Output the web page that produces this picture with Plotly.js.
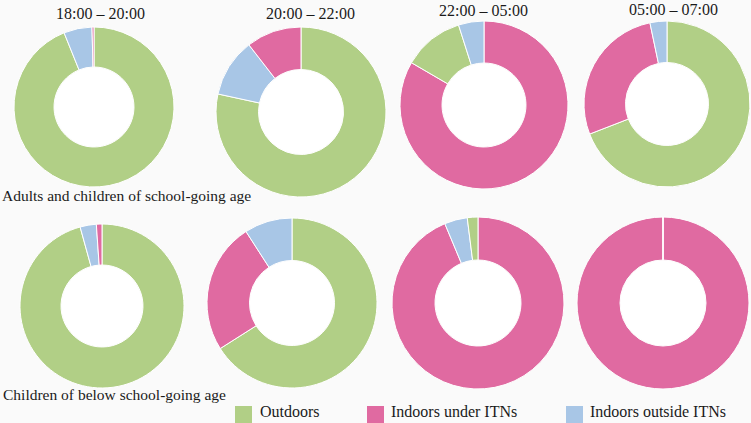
<!DOCTYPE html>
<html>
<head>
<meta charset="utf-8">
<script src="https://cdn.plot.ly/plotly-3.0.1.min.js"></script>
<style>html,body{margin:0;padding:0;background:#fafafa;}#chart{width:751px;height:423px;}</style>
</head>
<body>
<div id="chart"></div>
<script>
// ---- data ----
const labels = ['Outdoors', 'Indoors under ITNs', 'Indoors outside ITNs'];
const periods = ['18:00 \u2013 20:00', '20:00 \u2013 22:00', '22:00 \u2013 05:00', '05:00 \u2013 07:00'];
const groups = ['Adults and children of school-going age', 'Children of below school-going age'];

const adultsOutdoors = [93.9, 78.4, 11.7, 69.1];
const adultsUnderITN = [0.4, 10.5, 83.4, 27.6];
const adultsOutsideITN = [5.7, 11.1, 4.9, 3.3];

const childOutdoors = [95.7, 66.0, 2.0, 0];
const childUnderITN = [1.1, 24.9, 93.7, 100];
const childOutsideITN = [3.2, 9.1, 4.3, 0];

// ---- styles / layout ----
const colors = ['#b1cf86', '#e06aa1', '#a8c6e6'];
const W = 751, H = 423;
const FONT = '"Liberation Serif", "DejaVu Serif", serif';
// pie centres and radii in px, [row][col]
const geom = [
  [[94, 107, 80], [301, 112, 85], [484, 105, 84], [667, 104, 83]],
  [[102, 306, 82], [292, 303, 85], [478, 303, 86], [663, 303, 86]]
];
const HOLE = 0.5;

const rows = [
  [adultsOutdoors, adultsUnderITN, adultsOutsideITN],
  [childOutdoors, childUnderITN, childOutsideITN]
];

const traces = [];
const shapes = [];
rows.forEach((series, r) => {
  periods.forEach((p, c) => {
    const [cx, cy, rad] = geom[r][c];
    traces.push({
      type: 'pie',
      labels: labels,
      values: series.map(s => s[c]),
      hole: HOLE,
      sort: true,
      direction: 'clockwise',
      rotation: 0,
      textinfo: 'none',
      hoverinfo: 'label+percent',
      showlegend: false,
      marker: {colors: colors, line: {color: '#ffffff', width: 1}},
      domain: {
        x: [(cx - rad) / W, (cx + rad) / W],
        y: [1 - (cy + rad) / H, 1 - (cy - rad) / H]
      }
    });
    const hr = rad * HOLE - 0.5;
    shapes.push({
      type: 'circle', xref: 'paper', yref: 'paper', layer: 'below',
      x0: (cx - hr) / W, x1: (cx + hr) / W,
      y0: 1 - (cy + hr) / H, y1: 1 - (cy - hr) / H,
      fillcolor: '#ffffff', line: {width: 0}
    });
  });
});

const annotations = [];
const titlePos = [[100, 13], [310, 13], [483, 10], [673, 9]];
periods.forEach((p, i) => {
  annotations.push({
    text: p, xref: 'paper', yref: 'paper', showarrow: false,
    x: titlePos[i][0] / W, y: 1 - titlePos[i][1] / H,
    xanchor: 'center', yanchor: 'middle',
    font: {family: FONT, size: 16, color: '#1a1a1a'}
  });
});
const groupPos = [[0, 195], [1, 394]];
groups.forEach((g, i) => {
  annotations.push({
    text: g, xref: 'paper', yref: 'paper', showarrow: false,
    x: groupPos[i][0] / W, y: 1 - groupPos[i][1] / H,
    xanchor: 'left', yanchor: 'middle',
    font: {family: FONT, size: 15.5, color: '#1a1a1a'}
  });
});
// manual legend
const legSq = [235, 367, 566];
const legTxt = [258, 389, 588];
labels.forEach((l, i) => {
  shapes.push({
    type: 'rect', xref: 'paper', yref: 'paper',
    x0: legSq[i] / W, x1: (legSq[i] + 17) / W,
    y0: 1 - 423 / H, y1: 1 - 406 / H,
    fillcolor: colors[i], line: {width: 0}
  });
  annotations.push({
    text: l, xref: 'paper', yref: 'paper', showarrow: false,
    x: legTxt[i] / W, y: 1 - 411 / H,
    xanchor: 'left', yanchor: 'middle',
    font: {family: FONT, size: 16, color: '#1a1a1a'}
  });
});

const layout = {
  width: W, height: H,
  margin: {l: 0, r: 0, t: 0, b: 0},
  paper_bgcolor: '#fafafa',
  plot_bgcolor: '#fafafa',
  showlegend: false,
  shapes: shapes,
  annotations: annotations
};

Plotly.newPlot('chart', traces, layout, {displayModeBar: false, staticPlot: true});
</script>
</body>
</html>
